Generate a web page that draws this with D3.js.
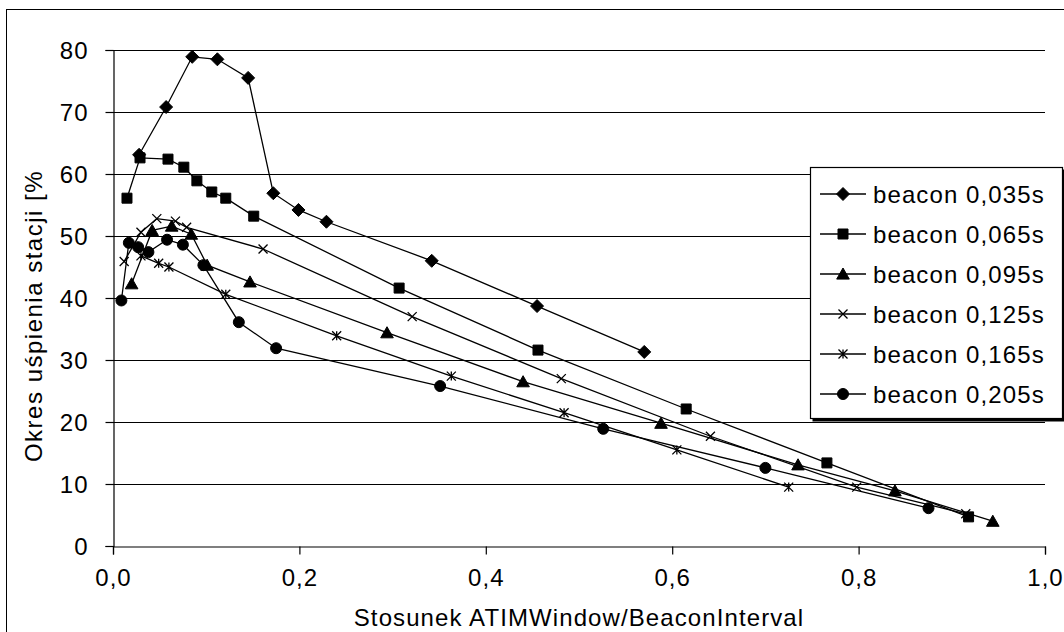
<!DOCTYPE html>
<html>
<head>
<meta charset="utf-8">
<script src="https://cdn.jsdelivr.net/npm/d3@7"></script>
<style>
  body { margin: 0; background: #fff; }
  text { font-family: "Liberation Sans", Arial, sans-serif; fill: #000; }
</style>
</head>
<body>
<div id="chart"></div>
<script>
// Series labels and marker types
var seriesNames = ["beacon 0,035s", "beacon 0,065s", "beacon 0,095s", "beacon 0,125s", "beacon 0,165s", "beacon 0,205s"];
var markerTypes = ["diamond", "square", "triangle", "cross", "star", "circle"];

// Values: [ATIMWindow/BeaconInterval, sleep %]
var beacon035 = [[0.028,63.1],[0.057,70.8],[0.085,78.9],[0.112,78.5],[0.145,75.5],[0.172,56.9],[0.199,54.2],[0.229,52.3],[0.342,46.0],[0.455,38.7],[0.570,31.3]];
var beacon065 = [[0.015,56.1],[0.029,62.6],[0.059,62.4],[0.076,61.1],[0.090,58.9],[0.106,57.1],[0.121,56.1],[0.151,53.2],[0.307,41.6],[0.456,31.6],[0.615,22.1],[0.766,13.4],[0.918,4.7]];
var beacon095 = [[0.020,42.3],[0.042,50.9],[0.063,51.6],[0.084,50.3],[0.101,45.3],[0.147,42.6],[0.294,34.4],[0.440,26.5],[0.588,19.8],[0.735,13.1],[0.839,8.9],[0.944,4.0]];
var beacon125 = [[0.012,45.9],[0.030,50.6],[0.047,52.8],[0.067,52.4],[0.079,51.4],[0.161,47.9],[0.321,37.0],[0.481,27.0],[0.641,17.7],[0.798,9.5],[0.915,5.2]];
var beacon165 = [[0.030,46.8],[0.049,45.6],[0.060,45.0],[0.121,40.6],[0.240,33.9],[0.363,27.4],[0.484,21.5],[0.605,15.5],[0.725,9.5]];
var beacon205 = [[0.009,39.6],[0.017,48.9],[0.027,48.2],[0.038,47.4],[0.058,49.4],[0.075,48.6],[0.097,45.3],[0.135,36.1],[0.175,31.9],[0.351,25.8],[0.526,18.9],[0.700,12.6],[0.875,6.1]];
var allSeries = [beacon035, beacon065, beacon095, beacon125, beacon165, beacon205];

// Axis ticks
var xTicks = [0, 0.2, 0.4, 0.6, 0.8, 1.0];
var yTicks = [0, 10, 20, 30, 40, 50, 60, 70, 80];

var width = 1064, height = 632;
var plot = {left: 113, right: 1045, top: 50, bottom: 546};

var svg = d3.select("#chart").append("svg")
    .attr("width", width)
    .attr("height", height);

// outer chart frame (only left/top edges fall inside the picture)
svg.append("rect")
    .attr("x", 6.5).attr("y", 9.5)
    .attr("width", 1200).attr("height", 800)
    .attr("fill", "#fff")
    .attr("stroke", "#000");

var x = d3.scaleLinear().domain([0, 1]).range([plot.left, plot.right]);
var y = d3.scaleLinear().domain([0, 80]).range([plot.bottom, plot.top]);

// horizontal gridlines
svg.append("g")
    .selectAll("line")
    .data(yTicks.slice(1))
    .enter()
    .append("line")
    .attr("x1", plot.left).attr("x2", plot.right)
    .attr("y1", function(d) { return Math.round(y(d)) + 0.5; })
    .attr("y2", function(d) { return Math.round(y(d)) + 0.5; })
    .attr("stroke", "#000")
    .attr("stroke-width", 1.2);

// axes
var fmt = function(d) { return d3.format(".1f")(d).replace(".", ","); };

var xAxis = svg.append("g")
    .attr("transform", "translate(0," + (plot.bottom + 0.5) + ")")
    .call(d3.axisBottom(x).tickValues(xTicks).tickFormat(fmt).tickSize(8).tickPadding(14));

var yAxis = svg.append("g")
    .attr("transform", "translate(" + (plot.left + 0.5) + ",0)")
    .call(d3.axisLeft(y).tickValues(yTicks).tickSize(8).tickPadding(17));

[xAxis, yAxis].forEach(function(ax) {
    ax.select(".domain").attr("stroke", "#000").attr("stroke-width", 1.2);
    ax.selectAll(".tick line").attr("stroke", "#000").attr("stroke-width", 1.2);
    ax.selectAll(".tick text")
      .style("font-family", "'Liberation Sans', Arial, sans-serif")
      .style("font-size", "24px")
      .style("letter-spacing", "1px")
      .attr("fill", "#000");
});
yAxis.selectAll(".tick text").attr("dy", "0.36em");

// axis titles
svg.append("text")
    .attr("x", (plot.left + plot.right) / 2)
    .attr("y", 626)
    .attr("text-anchor", "middle")
    .style("font-size", "24px")
    .style("letter-spacing", "1.1px")
    .text("Stosunek ATIMWindow/BeaconInterval");

svg.append("text")
    .attr("transform", "translate(42,316) rotate(-90)")
    .attr("text-anchor", "middle")
    .style("font-size", "24px")
    .style("letter-spacing", "1.5px")
    .text("Okres uśpienia stacji [%");

// marker shapes
function markerPath(type, r) {
    switch (type) {
        case "diamond": return "M0," + (-r) + "L" + r + ",0L0," + r + "L" + (-r) + ",0Z";
        case "square": return "M" + (-r) + "," + (-r) + "h" + (2 * r) + "v" + (2 * r) + "h" + (-2 * r) + "Z";
        case "triangle": return "M0," + (-r) + "L" + (r * 1.05) + "," + (r * 0.85) + "L" + (-r * 1.05) + "," + (r * 0.85) + "Z";
        case "cross": return "M" + (-r) + "," + (-r) + "L" + r + "," + r + "M" + r + "," + (-r) + "L" + (-r) + "," + r;
        case "star": return "M" + (-r) + "," + (-r) + "L" + r + "," + r + "M" + r + "," + (-r) + "L" + (-r) + "," + r + "M0," + (-r) + "V" + r;
        case "circle": return d3.symbol().type(d3.symbolCircle).size(Math.PI * r * r)();
    }
}
function markerStyle(sel, type) {
    var open = (type === "cross" || type === "star");
    sel.attr("fill", open ? "none" : "#000")
       .attr("stroke", "#000")
       .attr("stroke-width", open ? 1.3 : 1);
}
var markerSize = {diamond: 6.5, square: 5, triangle: 6, cross: 4.5, star: 4.5, circle: 5.5};

var line = d3.line()
    .x(function(d) { return x(d[0]); })
    .y(function(d) { return y(d[1]); });

var seriesGroup = svg.append("g");

allSeries.forEach(function(data, i) {
    var g = seriesGroup.append("g");
    g.append("path")
        .datum(data)
        .attr("d", line)
        .attr("fill", "none")
        .attr("stroke", "#000")
        .attr("stroke-width", 1.3);
    g.selectAll("path.marker")
        .data(data)
        .enter()
        .append("path")
        .attr("class", "marker")
        .attr("transform", function(d) { return "translate(" + x(d[0]) + "," + y(d[1]) + ")"; })
        .attr("d", markerPath(markerTypes[i], markerSize[markerTypes[i]]))
        .call(markerStyle, markerTypes[i]);
});

// legend
var legend = svg.append("g");
legend.append("rect")
    .attr("x", 812.5).attr("y", 169.5)
    .attr("width", 252).attr("height", 252)
    .attr("fill", "#000");
legend.append("rect")
    .attr("x", 810.5).attr("y", 167.5)
    .attr("width", 252).attr("height", 251)
    .attr("fill", "#fff")
    .attr("stroke", "#000")
    .attr("stroke-width", 1.2);

var items = legend.selectAll("g.item")
    .data(seriesNames)
    .enter()
    .append("g")
    .attr("class", "item")
    .attr("transform", function(d, i) { return "translate(0," + (194 + i * 40) + ")"; });

items.append("line")
    .attr("x1", 820).attr("x2", 866)
    .attr("y1", 0).attr("y2", 0)
    .attr("stroke", "#000")
    .attr("stroke-width", 1.3);
items.append("path")
    .attr("transform", "translate(843,0)")
    .each(function(d, i) {
        var t = markerTypes[i];
        d3.select(this).attr("d", markerPath(t, markerSize[t])).call(markerStyle, t);
    });
items.append("text")
    .attr("x", 873)
    .attr("y", 9)
    .style("font-size", "24px")
    .style("letter-spacing", "1.1px")
    .text(function(d) { return d; });
</script>
</body>
</html>
